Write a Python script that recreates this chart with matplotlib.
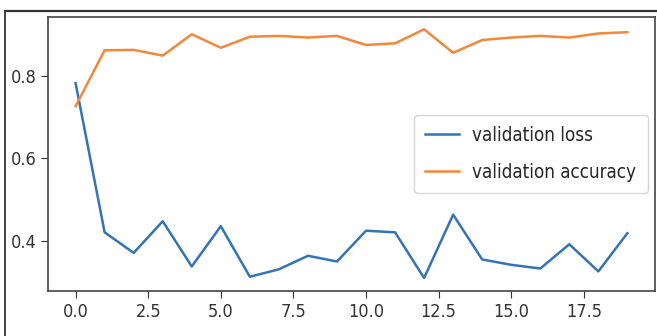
import matplotlib
matplotlib.use("Agg")
import matplotlib.pyplot as plt
from matplotlib.lines import Line2D

epochs = list(range(20))
val_loss = [0.783, 0.420, 0.370, 0.447, 0.337, 0.435, 0.312, 0.330, 0.363, 0.349,
            0.424, 0.420, 0.309, 0.463, 0.354, 0.341, 0.332, 0.391, 0.325, 0.418]
val_acc = [0.727, 0.863, 0.864, 0.850, 0.902, 0.869, 0.896, 0.898, 0.894, 0.898,
           0.876, 0.880, 0.914, 0.857, 0.888, 0.894, 0.898, 0.894, 0.904, 0.907]

plt.rcParams['font.family'] = ['DejaVu Sans']
plt.rcParams['font.stretch'] = 'condensed'

fig = plt.figure(figsize=(6.57, 3.36), dpi=100)
ax = fig.add_axes([48/657, 1-290.7/336, (655-48)/657, (290.7-17)/336])
ax.plot(epochs, val_loss, color='#3474b4', lw=1.8, label='validation loss')
ax.plot(epochs, val_acc, color='#f5873a', lw=1.8, label='validation accuracy')
ax.set_ylim(0.278, 0.944)
ax.set_xticks([0, 2.5, 5, 7.5, 10, 12.5, 15, 17.5])
ax.set_yticks([0.4, 0.6, 0.8])
ax.tick_params(labelsize=13, colors='#333333', length=5)
for s in ax.spines.values():
    s.set_color('#444444')
    s.set_linewidth(1.2)
leg = ax.legend(loc='center right', fontsize=13.5, frameon=True,
                labelspacing=0.95, borderpad=0.6, handlelength=1.8,
                handletextpad=0.7, borderaxespad=0.4)
for t in leg.get_texts():
    t.set_color('#262626')

# outer screenshot frame
fig.add_artist(Line2D([5/657, 5/657], [0, 1-11/336], transform=fig.transFigure, color='#222222', lw=1.2))
fig.add_artist(Line2D([5/657, 1], [1-11/336, 1-11/336], transform=fig.transFigure, color='#333333', lw=1.6))

fig.savefig('out.png', dpi=100)
